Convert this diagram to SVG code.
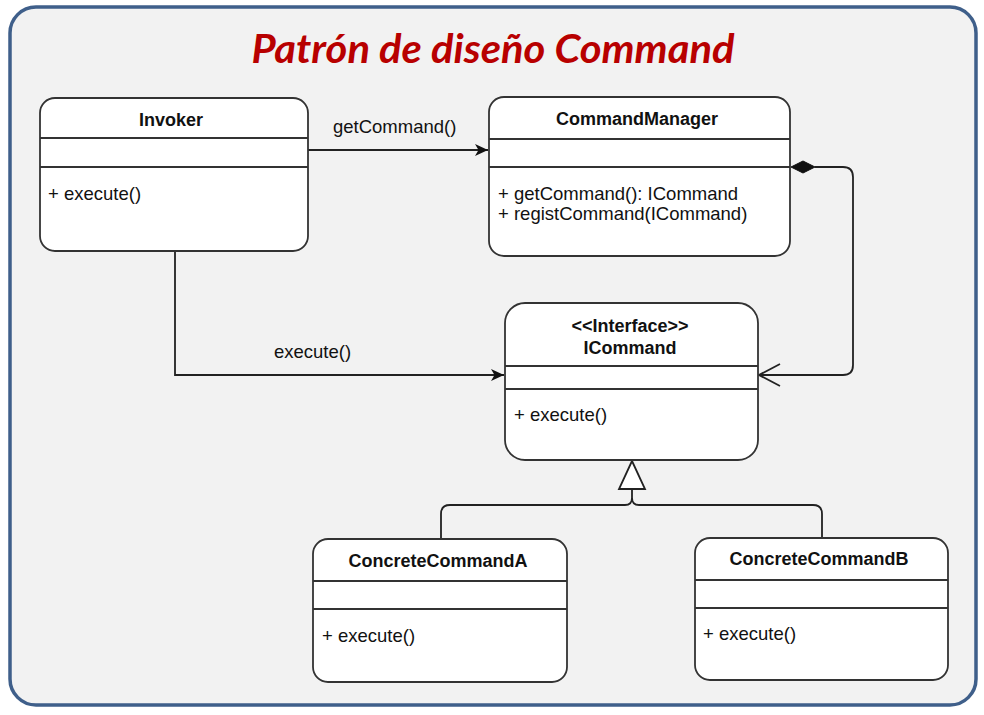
<svg xmlns="http://www.w3.org/2000/svg" width="984" height="715" viewBox="0 0 984 715">
  <defs>
    <style>
      .frame { fill: #f2f2f2; stroke: #3f5f8a; stroke-width: 3.5; }
      .box { fill: #ffffff; stroke: #333333; stroke-width: 1.8; }
      .sep { stroke: #333333; stroke-width: 1.8; fill: none; }
      .edge { stroke: #222222; stroke-width: 1.8; fill: none; }
      .name { font-family: "Liberation Sans", Arial, sans-serif; font-weight: bold; font-size: 18px; fill: #111111; text-anchor: middle; }
      .member { font-family: "Liberation Sans", Arial, sans-serif; font-size: 18.5px; fill: #111111; }
      .label { font-family: "Liberation Sans", Arial, sans-serif; font-size: 18.5px; fill: #111111; }
      .title { font-family: "Lato", "Liberation Sans", sans-serif; font-weight: bold; font-style: italic; font-size: 40px; fill: #b80000; text-anchor: middle; }
    </style>
    <marker id="filled" viewBox="0 0 14 14" refX="13" refY="7" markerWidth="14" markerHeight="14" markerUnits="userSpaceOnUse" orient="auto">
      <path d="M0,1 L13,7 L0,13 L3.5,7 Z" fill="#111111"/>
    </marker>
  </defs>

  <rect class="frame" x="10" y="7" width="966" height="698" rx="26" ry="26"/>

  <text class="title" x="493" y="63" textLength="483" lengthAdjust="spacingAndGlyphs">Patrón de diseño Command</text>

  <g id="connectors">
    <!-- getCommand() -->
    <line class="edge" x1="308" y1="150" x2="488" y2="150" marker-end="url(#filled)"/>
    <text class="label" x="333" y="133">getCommand()</text>
    <!-- execute() -->
    <polyline class="edge" points="175,251 175,375 504,375" marker-end="url(#filled)"/>
    <text class="label" x="274" y="358">execute()</text>
    <!-- composition CommandManager -> ICommand -->
    <path class="edge" d="M815,167 L843,167 Q853,167 853,177 L853,365 Q853,375 843,375 L759,375"/>
    <path d="M780,364 L759,375 L780,386" fill="none" stroke="#222222" stroke-width="1.8"/>
    <path d="M791,167 L803,161 L815,167 L803,173 Z" fill="#111111" stroke="#111111" stroke-width="1"/>
    <!-- generalization -->
    <path d="M632,461 L645,489 L619,489 Z" fill="#ffffff" stroke="#222222" stroke-width="1.8"/>
    <path class="edge" d="M632,489 L632,498 Q632,505 625,505 L450,505 Q441,505 441,514 L441,539"/>
    <path class="edge" d="M632,498 Q632,505 639,505 L813,505 Q822,505 822,514 L822,538"/>
  </g>

  <g id="invoker">
    <rect class="box" x="40" y="98" width="268" height="153" rx="15" ry="15"/>
    <line class="sep" x1="40" y1="138" x2="308" y2="138"/>
    <line class="sep" x1="40" y1="167" x2="308" y2="167"/>
    <text class="name" x="171" y="126">Invoker</text>
    <text class="member" x="48" y="200">+ execute()</text>
  </g>

  <g id="commandmanager">
    <rect class="box" x="489" y="97" width="301" height="159" rx="15" ry="15"/>
    <line class="sep" x1="489" y1="139" x2="790" y2="139"/>
    <line class="sep" x1="489" y1="167" x2="790" y2="167"/>
    <text class="name" x="637" y="125">CommandManager</text>
    <text class="member" x="498" y="200">+ getCommand(): ICommand</text>
    <text class="member" x="498" y="220">+ registCommand(ICommand)</text>
  </g>

  <g id="icommand">
    <rect class="box" x="505" y="303" width="253" height="157" rx="20" ry="20"/>
    <line class="sep" x1="505" y1="366" x2="758" y2="366"/>
    <line class="sep" x1="505" y1="389" x2="758" y2="389"/>
    <text class="name" x="630" y="332">&lt;&lt;Interface&gt;&gt;</text>
    <text class="name" x="630" y="354">ICommand</text>
    <text class="member" x="514" y="421">+ execute()</text>
  </g>

  <g id="concretecommanda">
    <rect class="box" x="313" y="539" width="254" height="143" rx="15" ry="15"/>
    <line class="sep" x1="313" y1="581" x2="567" y2="581"/>
    <line class="sep" x1="313" y1="609" x2="567" y2="609"/>
    <text class="name" x="438" y="567">ConcreteCommandA</text>
    <text class="member" x="322" y="642">+ execute()</text>
  </g>

  <g id="concretecommandb">
    <rect class="box" x="695" y="538" width="253" height="142" rx="15" ry="15"/>
    <line class="sep" x1="695" y1="580" x2="948" y2="580"/>
    <line class="sep" x1="695" y1="608" x2="948" y2="608"/>
    <text class="name" x="819" y="565">ConcreteCommandB</text>
    <text class="member" x="703" y="640">+ execute()</text>
  </g>
</svg>
